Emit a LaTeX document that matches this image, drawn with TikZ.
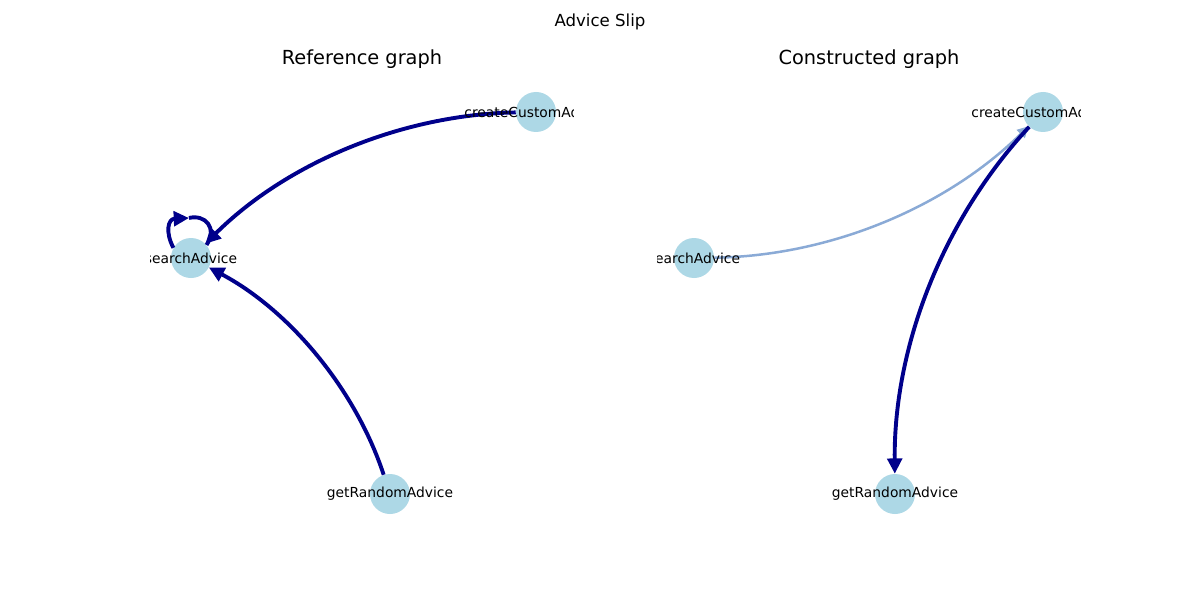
\documentclass[tikz,border=0pt]{standalone}
\usepackage{fontspec}
\setmainfont{DejaVu Sans}
\usetikzlibrary{arrows.meta,calc}
\definecolor{nodeblue}{HTML}{ADD8E6}
\definecolor{edgedark}{HTML}{00008B}
\definecolor{edgelight}{RGB}{138,170,214}
\tikzset{
  vertex/.style={circle, fill=nodeblue, draw=none, minimum size=28.8bp, inner sep=0pt},
  vlabel/.style={inner sep=0pt, font=\fontsize{10}{12}\selectfont},
  darkedge/.style={draw=edgedark, line width=2.8bp, -{Triangle[length=11bp,width=10.5bp]}},
  darkline/.style={draw=edgedark, line width=2.8bp},
  lightedge/.style={draw=edgelight, line width=1.8bp, -{Triangle[length=8bp,width=8bp]}},
  subtitle/.style={inner sep=0pt, font=\fontsize{14}{17}\selectfont},
  maintitle/.style={inner sep=0pt, font=\fontsize{12}{14}\selectfont}
}
\begin{document}
\begin{tikzpicture}[x=0.72bp,y=-0.72bp]
\useasboundingbox[fill=white] (0,0) rectangle (1200,600);
% titles
\node[maintitle] (sup) at (600,22) {Advice Slip};
\node[subtitle] (t1) at (362,59) {Reference graph};
\node[subtitle] (t2) at (869,59) {Constructed graph};
% nodes left
\node[vertex] (sa) at (191,258) {};
\node[vertex] (cc) at (536,112) {};
\node[vertex] (gr) at (390,494) {};
% nodes right
\node[vertex] (sb) at (694,258) {};
\node[vertex] (cb) at (1043,112) {};
\node[vertex] (gb) at (895,494) {};
% control points
\coordinate (c1) at (334,116);
\coordinate (c2) at (338,336);
\coordinate (c3) at (898,255);
\coordinate (c4) at (893,273);
\coordinate (lp) at (189,218);
% left edges
\draw[darkedge] (cc) .. controls ($(cc)!0.6667!(c1)$) and ($(sa)!0.6667!(c1)$) .. (sa);
\draw[darkedge] (gr) .. controls ($(gr)!0.6667!(c2)$) and ($(sa)!0.6667!(c2)$) .. (sa);
\draw[darkedge] (sa.150) .. controls (165,232) and (168,219) .. (lp);
\draw[darkline] (lp) .. controls (205,214) and (218,228) .. (sa.40);
% right edges
\draw[lightedge] (sb) .. controls ($(sb)!0.6667!(c3)$) and ($(cb)!0.6667!(c3)$) .. (cb);
\draw[darkedge] (cb) .. controls ($(cb)!0.6667!(c4)$) and ($(gb)!0.6667!(c4)$) .. (gb);
% labels, clipped to the axes
\begin{scope}
\clip (150,0) rectangle (573,600);
\node[vlabel] (lsa) at (sa) {searchAdvice};
\node[vlabel] (lcc) at (cc) {createCustomAdvice};
\node[vlabel] (lgr) at (gr) {getRandomAdvice};
\end{scope}
\begin{scope}
\clip (657,0) rectangle (1080,600);
\node[vlabel] (lsb) at (sb) {searchAdvice};
\node[vlabel] (lcb) at (cb) {createCustomAdvice};
\node[vlabel] (lgb) at (gb) {getRandomAdvice};
\end{scope}
\end{tikzpicture}
\end{document}
